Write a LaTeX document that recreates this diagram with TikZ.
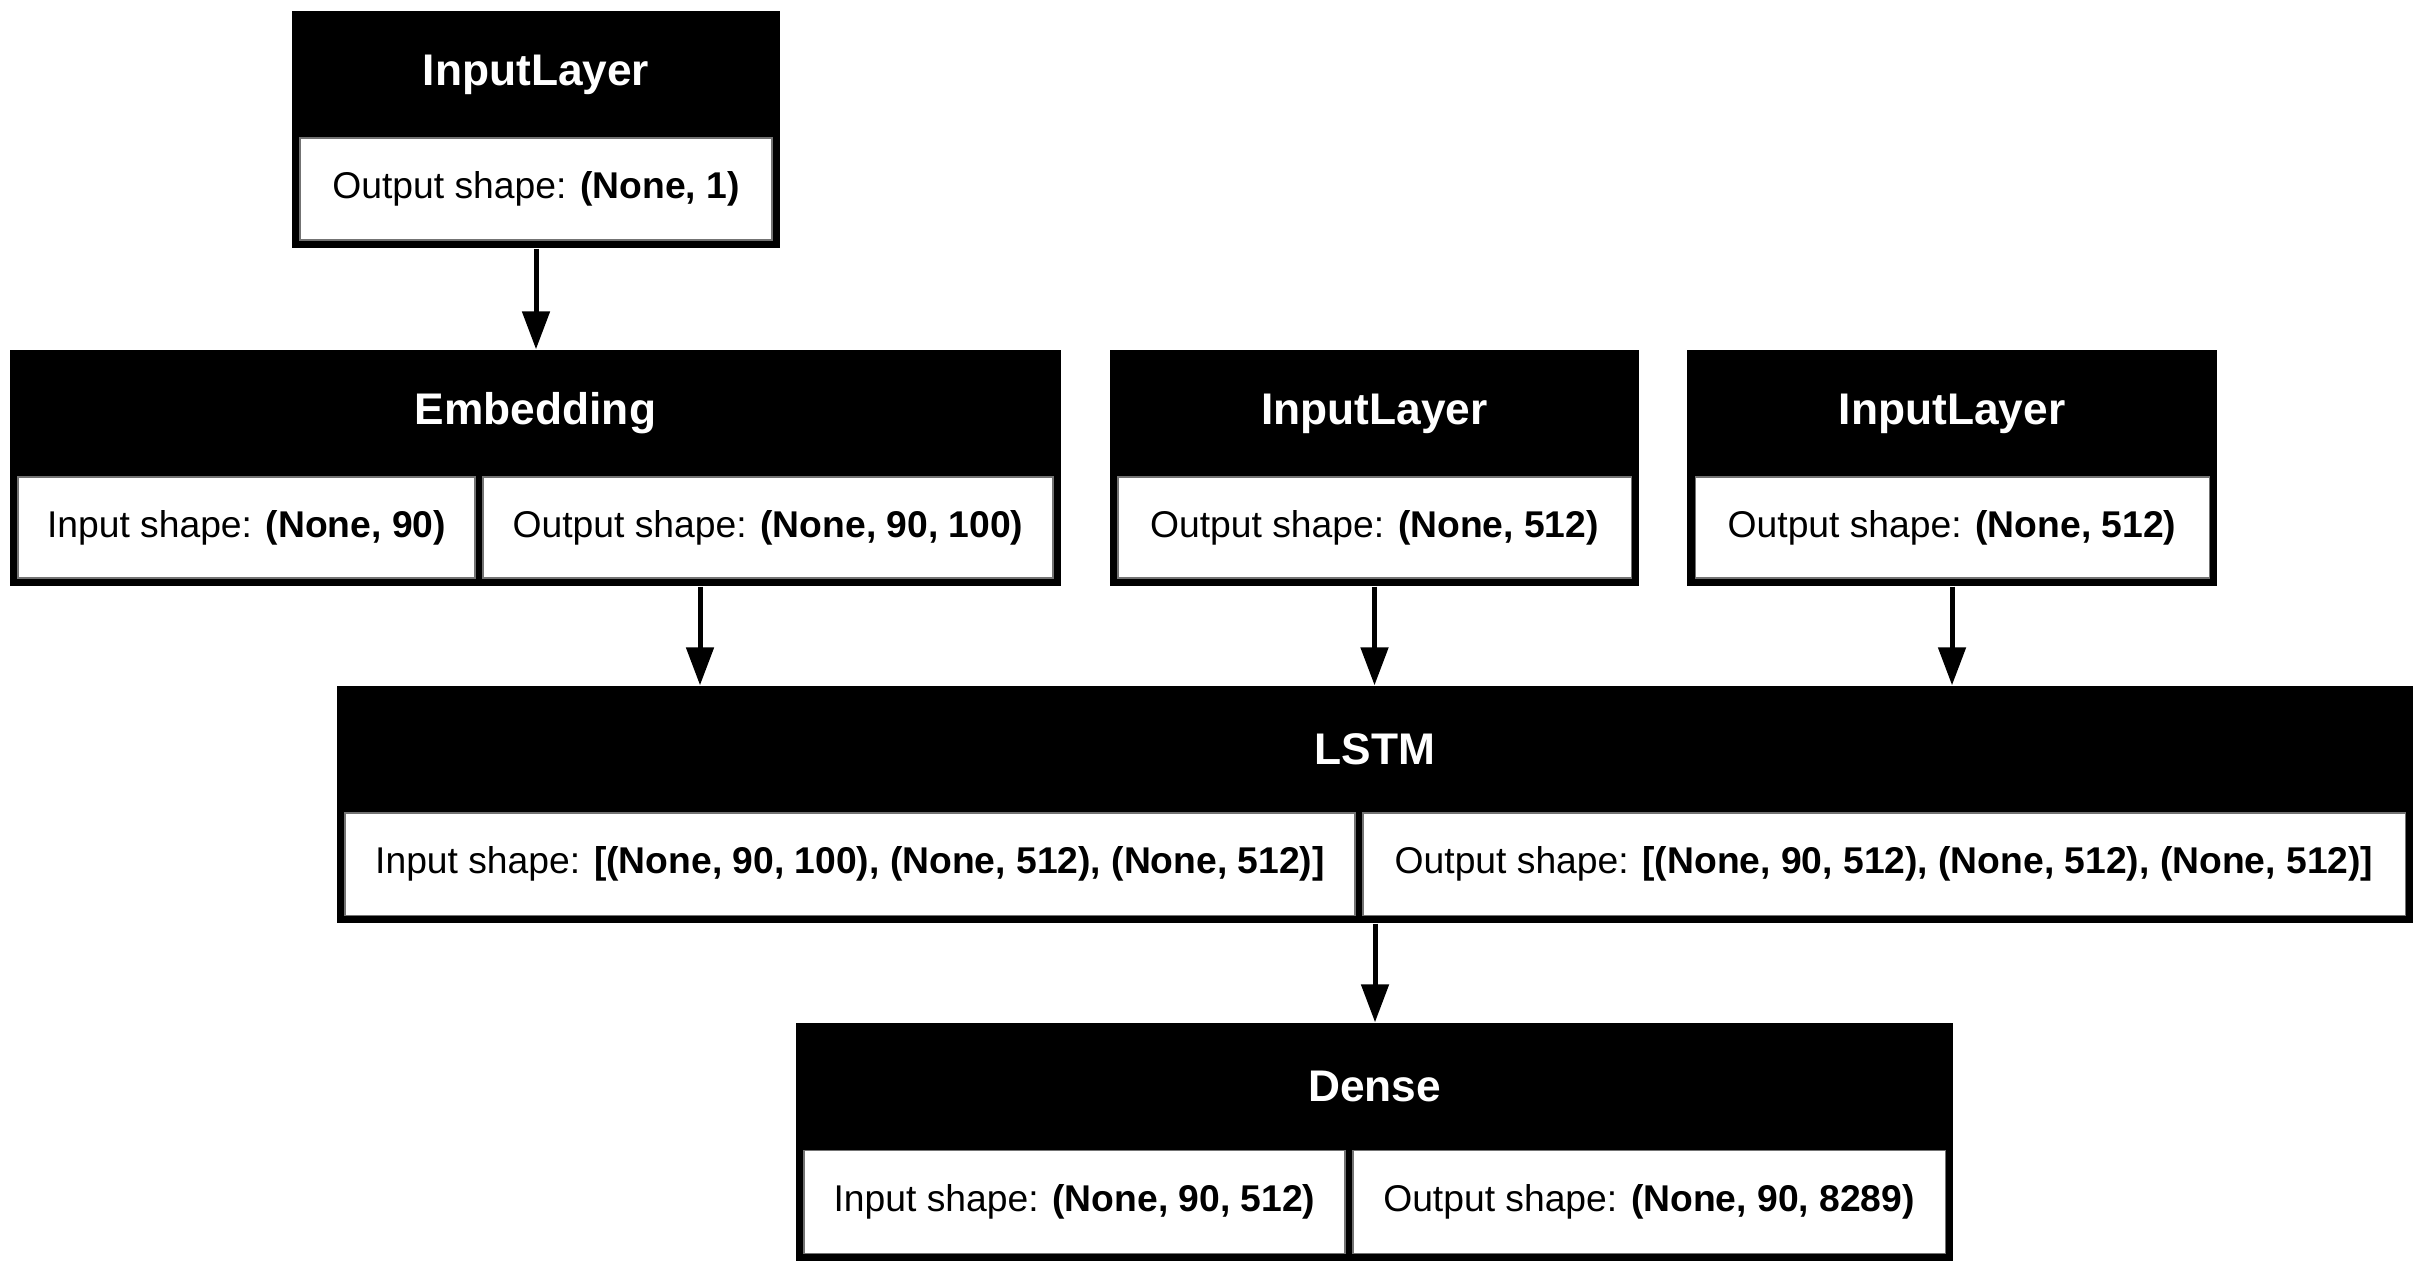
\documentclass[tikz,border=0pt]{standalone}
\usepackage{fontspec}
\setmainfont{Liberation Sans}
\usetikzlibrary{arrows, arrows.meta}
\usetikzlibrary{calc}

\tikzset{
  layer/.style={rectangle, fill=black, inner sep=0pt},
  ltitle/.style={inner sep=0pt, text=white, font=\fontsize{12.6}{15}\selectfont\bfseries},
  shapecell/.style={rectangle, fill=white, draw=black!55, line width=0.3pt, inner sep=0pt,
    font=\fontsize{10.6}{13}\selectfont},
  flow/.style={line width=0.05cm, -{Triangle[length=3.8mm, width=2.7mm]}}
}

\begin{document}
\begin{tikzpicture}
      \useasboundingbox (0,0) rectangle (24.23,-12.72);

      % first input
      \node[layer, minimum width=4.88cm, minimum height=2.37cm] (inA) at (5.36,-1.295) {};
      \node[ltitle] (inA-t) at (5.36,-0.745) {InputLayer};
      \node[shapecell, minimum width=4.72cm, minimum height=1.02cm] (inA-out) at (5.36,-1.89) {Output shape: \textbf{(None, 1)}};

      % embedding
      \node[layer, minimum width=10.51cm, minimum height=2.36cm] (emb) at (5.355,-4.68) {};
      \node[ltitle] (emb-t) at (5.355,-4.135) {Embedding};
      \node[shapecell, minimum width=4.57cm, minimum height=1.01cm] (emb-in) at (2.465,-5.275) {Input shape: \textbf{(None, 90)}};
      \node[shapecell, minimum width=5.70cm, minimum height=1.01cm] (emb-out) at (7.68,-5.275) {Output shape: \textbf{(None, 90, 100)}};

      % second and third input
      \node[layer, minimum width=5.29cm, minimum height=2.36cm] (inB) at (13.745,-4.68) {};
      \node[ltitle] (inB-t) at (13.745,-4.135) {InputLayer};
      \node[shapecell, minimum width=5.13cm, minimum height=1.01cm] (inB-out) at (13.745,-5.275) {Output shape: \textbf{(None, 512)}};

      \node[layer, minimum width=5.30cm, minimum height=2.36cm] (inC) at (19.52,-4.68) {};
      \node[ltitle] (inC-t) at (19.52,-4.135) {InputLayer};
      \node[shapecell, minimum width=5.14cm, minimum height=1.01cm] (inC-out) at (19.52,-5.275) {Output shape: \textbf{(None, 512)}};

      % lstm
      \node[layer, minimum width=20.76cm, minimum height=2.37cm] (lstm) at (13.75,-8.045) {};
      \node[ltitle] (lstm-t) at (13.75,-7.495) {LSTM};
      \node[shapecell, minimum width=10.10cm, minimum height=1.02cm] (lstm-in) at (8.50,-8.64) {Input shape: \textbf{[(None, 90, 100), (None, 512), (None, 512)]}};
      \node[shapecell, minimum width=10.42cm, minimum height=1.02cm] (lstm-out) at (18.84,-8.64) {Output shape: \textbf{[(None, 90, 512), (None, 512), (None, 512)]}};

      % dense
      \node[layer, minimum width=11.57cm, minimum height=2.38cm] (dense) at (13.745,-11.42) {};
      \node[ltitle] (dense-t) at (13.745,-10.865) {Dense};
      \node[shapecell, minimum width=5.41cm, minimum height=1.03cm] (dense-in) at (10.745,-12.015) {Input shape: \textbf{(None, 90, 512)}};
      \node[shapecell, minimum width=5.92cm, minimum height=1.03cm] (dense-out) at (16.49,-12.015) {Output shape: \textbf{(None, 90, 8289)}};

      \draw[flow] (inA.south) -- (inA.south |- emb.north);
      \draw[flow] ([xshift=16.45mm]emb.south) -- ([xshift=16.45mm]emb.south |- lstm.north);
      \draw[flow] (inB.south) -- (inB.south |- lstm.north);
      \draw[flow] (inC.south) -- (inC.south |- lstm.north);
      \draw[flow] (lstm.south) -- (lstm.south |- dense.north);
    \end{tikzpicture}
\end{document}
